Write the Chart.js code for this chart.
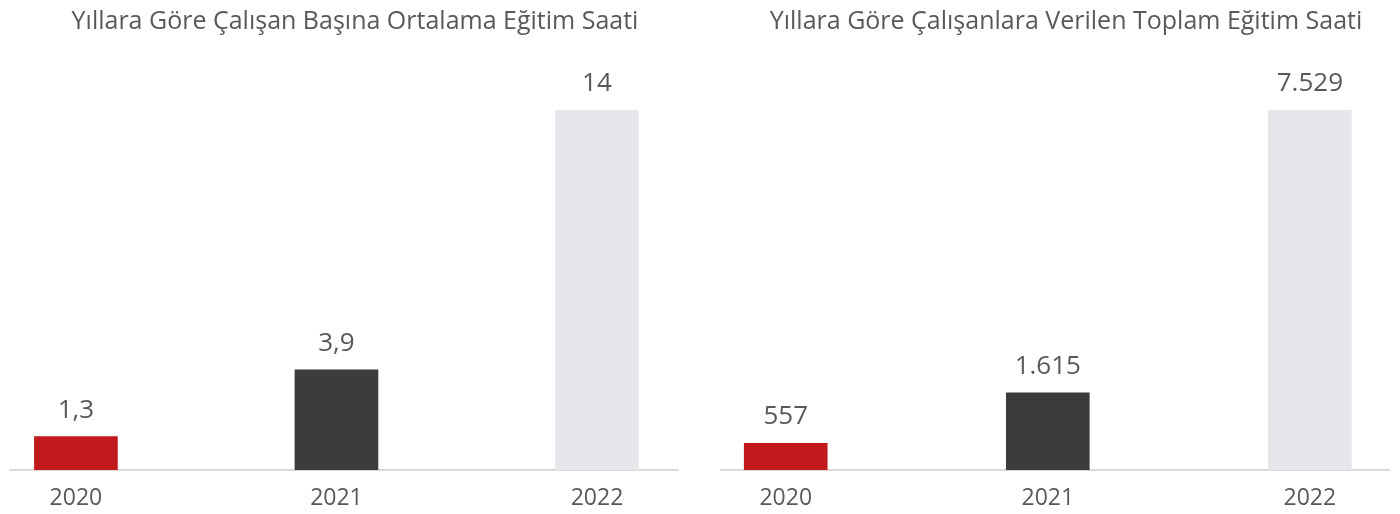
<!DOCTYPE html>
<html lang="tr">
<head>
<meta charset="utf-8">
<script src="https://cdn.jsdelivr.net/npm/chart.js@4.4.1/dist/chart.umd.min.js"></script>
<style>
    html, body { margin: 0; padding: 0; background: #fff; }
    body { width: 1400px; height: 514px; position: relative; overflow: hidden; }
    .chart-box { position: absolute; top: 0; width: 700px; height: 514px; }
    .chart-box canvas { display: block; }
    #left-box { left: 0; }
    #right-box { left: 700px; }
</style>
</head>
<body>
<div class="chart-box" id="left-box"><canvas id="avgHoursChart" width="700" height="514"></canvas></div>
<div class="chart-box" id="right-box"><canvas id="totalHoursChart" width="700" height="514"></canvas></div>

<script>
// Years shown on both charts
const years = ['2020', '2021', '2022'];

// Average training hours per employee
const avgHours = [1.3, 3.9, 14];
const avgHoursLabels = ['1,3', '3,9', '14'];

// Total training hours given to employees
const totalHours = [557, 1615, 7529];
const totalHoursLabels = ['557', '1.615', '7.529'];

const barColors = ['#C0191B', '#3C3C3B', '#E8E6EA'];
const textColor = '#595959';
const fontFamily = '"Open Sans", sans-serif';

// Writes the value text above every bar
const valueLabels = {
    id: 'valueLabels',
    afterDatasetsDraw(chart, args, opts) {
        const ctx = chart.ctx;
        const meta = chart.getDatasetMeta(0);
        ctx.save();
        ctx.font = `26px ${fontFamily}`;
        ctx.fillStyle = textColor;
        ctx.textAlign = 'center';
        ctx.textBaseline = 'alphabetic';
        meta.data.forEach((bar, i) => {
            ctx.fillText(opts.labels[i], bar.x, bar.y - 19);
        });
        ctx.restore();
    }
};

// Nudges the title sideways from the plot centre
const titleShift = {
    id: 'titleShift',
    afterLayout(chart, args, opts) {
        const t = chart.titleBlock;
        if (t) {
            t.left += opts.dx;
            t.right += opts.dx;
        }
    }
};

function createBarChart(canvasId, title, values, labels, pad, xRange) {
    const ctx = document.getElementById(canvasId).getContext('2d');

    const data = {
        datasets: [{
            data: values.map((v, i) => ({ x: i, y: v })),
            backgroundColor: barColors,
            borderWidth: 0,
            barThickness: 83
        }]
    };

    const config = {
        type: 'bar',
        data: data,
        options: {
            responsive: false,
            animation: false,
            devicePixelRatio: 1,
            layout: { padding: { left: pad.left, right: pad.right, top: 0, bottom: 0 } },
            scales: {
                x: {
                    type: 'linear',
                    offset: false,
                    min: xRange[0],
                    max: xRange[1],
                    grid: { display: false, drawTicks: false },
                    border: { display: true, color: '#D9D9D9', width: 2 },
                    afterBuildTicks: scale => {
                        scale.ticks = years.map((_, i) => ({ value: i }));
                    },
                    afterFit: scale => {
                        scale.height = 44;
                    },
                    ticks: {
                        padding: 15,
                        color: textColor,
                        font: { family: fontFamily, size: 23 },
                        maxRotation: 0,
                        callback: value => years[value]
                    }
                },
                y: {
                    display: false,
                    min: 0,
                    max: Math.max(...values)
                }
            },
            plugins: {
                legend: { display: false },
                tooltip: { enabled: false },
                title: {
                    display: true,
                    text: title,
                    color: textColor,
                    font: { family: fontFamily, size: 25, weight: 'normal' },
                    padding: { top: 7, bottom: 73 }
                },
                titleShift: { dx: pad.titleDx },
                valueLabels: { labels: labels }
            }
        },
        plugins: [titleShift, valueLabels]
    };

    return new Chart(ctx, config);
}

createBarChart(
    'avgHoursChart',
    'Yıllara Göre Çalışan Başına Ortalama Eğitim Saati',
    avgHours,
    avgHoursLabels,
    { left: 10, right: 22, titleDx: 11 },
    [-0.253, 2.311]
);

createBarChart(
    'totalHoursChart',
    'Yıllara Göre Çalışanlara Verilen Toplam Eğitim Saati',
    totalHours,
    totalHoursLabels,
    { left: 21, right: 11, titleDx: 11 },
    [-0.247, 2.302]
);
</script>
</body>
</html>
